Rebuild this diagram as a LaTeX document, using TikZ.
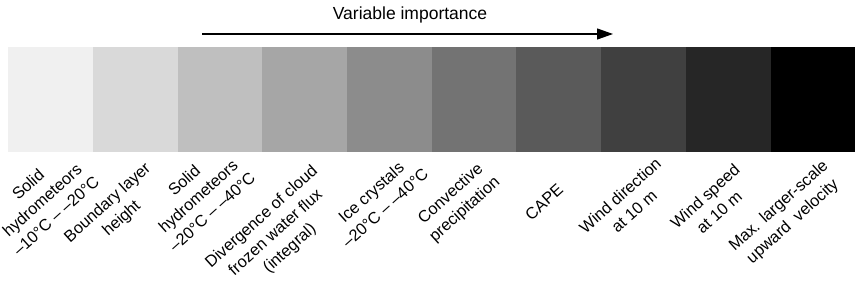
\documentclass[tikz,border=0pt]{standalone}
\usepackage{fontspec}
\setmainfont{Liberation Sans}
\usetikzlibrary{arrows.meta}
\begin{document}
\begin{tikzpicture}[x=1pt,y=-1pt,
  cellbox/.style={draw=none,minimum width=84.7pt,minimum height=105pt,inner sep=0pt,anchor=north west},
  vlabel/.style={rotate=42,align=center,inner sep=0pt,font=\fontsize{16.3}{21}\selectfont},
  title/.style={inner sep=0pt,font=\fontsize{17.5}{21}\selectfont}]
\useasboundingbox (0,0) rectangle (864,288);
\definecolor{g1}{RGB}{240,240,240}
\definecolor{g2}{RGB}{217,217,217}
\definecolor{g3}{RGB}{191,191,191}
\definecolor{g4}{RGB}{166,166,166}
\definecolor{g5}{RGB}{140,140,140}
\definecolor{g6}{RGB}{115,115,115}
\definecolor{g7}{RGB}{90,90,90}
\definecolor{g8}{RGB}{64,64,64}
\definecolor{g9}{RGB}{38,38,38}
\definecolor{g10}{RGB}{0,0,0}
\foreach \i in {1,...,10}{
  \node[cellbox,fill=g\i] (c\i) at ({8+84.7*(\i-1)},47) {};
}
\node[title] (t) at (410,15) {Variable importance};
\coordinate (a1) at (202,34);
\coordinate (a2) at (613,34);
\draw[line width=1.2pt,-{Triangle[length=16pt,width=11pt]}] (a1) -- (a2);
\node[vlabel] (l1) at (42,200) {Solid\\hydrometeors\\–10°C – –20°C};
\node[vlabel] (l2) at (115,211) {Boundary layer\\height};
\node[vlabel] (l3) at (198,196) {Solid\\hydrometeors\\–20°C – –40°C};
\node[vlabel] (l4) at (276,233) {Divergence of cloud\\frozen water flux\\(integral)};
\node[vlabel] (l5) at (378,200) {Ice crystals\\–20°C – –40°C};
\node[vlabel] (l6) at (458,202) {Convective\\precipitation};
\node[vlabel] (l7) at (544,202) {CAPE};
\node[vlabel] (l8) at (627,203) {Wind direction\\at 10 m};
\node[vlabel] (l9) at (712,204) {Wind speed\\at 10 m};
\node[vlabel] (l10) at (786,214) {Max. larger-scale\\upward~ velocity};
\end{tikzpicture}
\end{document}
